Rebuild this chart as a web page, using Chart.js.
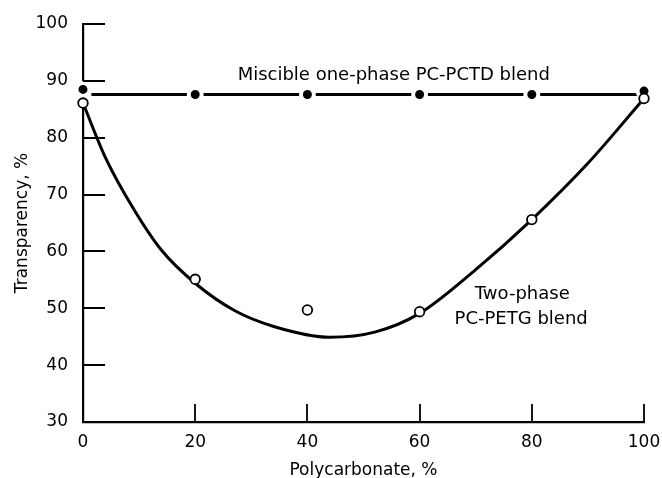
<!DOCTYPE html>
<html>
<head>
<meta charset="utf-8">
<script src="https://cdn.jsdelivr.net/npm/chart.js@4"></script>
<style>
  body { margin: 0; background: #fff; }
  canvas { display: block; }
</style>
</head>
<body>
<canvas id="myChart" width="662" height="478"></canvas>
<script>
// x = polycarbonate content, %
const pcContent = [0, 20, 40, 60, 80, 100]

// miscible one-phase PC-PCTD blend (filled dots)
const pctdValues = [88.5, 87.6, 87.6, 87.6, 87.6, 88.2]
const pctdLineX = [1.5, 100]
const pctdLineY = [87.6, 87.6]

// two-phase PC-PETG blend (open circles)
const petgValues = [86.1, 55.1, 49.7, 49.4, 65.6, 86.9]

// fitted curve through the PC-PETG points
const curveX = [0, 4, 9, 14, 20, 27, 34, 44, 52, 60, 70, 80, 90, 100]
const curveY = [86.1, 76.5, 67.5, 60.2, 54.4, 49.6, 46.8, 44.9, 45.8, 49.1, 56.8, 65.6, 75.5, 86.9]

const xTicks = [0, 20, 40, 60, 80, 100]
const yTicks = [30, 40, 50, 60, 70, 80, 90, 100]

const xTitle = 'Polycarbonate, %'
const yTitle = 'Transparency, %'

const notes = [
    { text: 'Miscible one-phase PC-PCTD blend', x: 55.4, y: 90.9 },
    { text: 'Two-phase', x: 78.3, y: 52.5 },
    { text: 'PC-PETG blend', x: 78.1, y: 48.1 }
]

const font = 'DejaVu Sans'

const toPoints = (xs, ys) => xs.map((x, i) => ({ x: x, y: ys[i] }))

// inward tick marks + annotation text
const extras = {
    id: 'extras',
    afterDraw(chart) {
        const ctx = chart.ctx
        const xs = chart.scales.x
        const ys = chart.scales.y
        const area = chart.chartArea
        ctx.save()
        ctx.strokeStyle = '#000'
        ctx.lineWidth = 2.2
        ctx.beginPath()
        yTicks.forEach(v => {
            if (v === 30) return
            const py = Math.round(ys.getPixelForValue(v))
            ctx.moveTo(area.left, py)
            ctx.lineTo(area.left + 22, py)
        })
        ctx.stroke()
        ctx.lineWidth = 1.8
        ctx.beginPath()
        xTicks.forEach(v => {
            if (v === 0) return
            const px = Math.round(xs.getPixelForValue(v))
            ctx.moveTo(px, area.bottom)
            ctx.lineTo(px, area.bottom - 18)
        })
        ctx.stroke()

        ctx.fillStyle = '#000'
        ctx.font = '18px "' + font + '"'
        ctx.textAlign = 'center'
        ctx.textBaseline = 'middle'
        notes.forEach(n => {
            ctx.fillText(n.text, xs.getPixelForValue(n.x), ys.getPixelForValue(n.y))
        })
        ctx.restore()
    }
}

const data = {
    datasets: [
        {
            label: 'PC-PETG',
            data: toPoints(pcContent, petgValues),
            showLine: false,
            clip: false,
            pointRadius: 4.8,
            pointBorderWidth: 1.8,
            pointBorderColor: '#000',
            pointBackgroundColor: '#fff'
        },
        {
            label: 'fit',
            data: toPoints(curveX, curveY),
            showLine: true,
            clip: false,
            borderColor: '#000',
            borderWidth: 3,
            pointRadius: 0,
            cubicInterpolationMode: 'monotone'
        },
        {
            label: 'PC-PCTD',
            data: toPoints(pcContent, pctdValues),
            showLine: false,
            clip: false,
            pointRadius: 6.5,
            pointBorderWidth: 4,
            pointBorderColor: '#fff',
            pointBackgroundColor: '#000'
        },
        {
            label: 'PC-PCTD line',
            data: toPoints(pctdLineX, pctdLineY),
            showLine: true,
            clip: false,
            borderColor: '#000',
            borderWidth: 3,
            pointRadius: 0
        }
    ]
}

const config = {
    type: 'scatter',
    data: data,
    options: {
        responsive: false,
        animation: false,
        devicePixelRatio: 1,
        layout: {
            padding: { top: 24, right: 18, left: 0, bottom: 0 }
        },
        plugins: {
            legend: { display: false },
            tooltip: { enabled: false }
        },
        scales: {
            x: {
                type: 'linear',
                min: 0,
                max: 100,
                afterFit: scale => {
                    scale.height = 56
                    scale.paddingLeft = 0
                    scale.paddingRight = 0
                },
                afterBuildTicks: scale => { scale.ticks = xTicks.map(v => ({ value: v })) },
                grid: { display: false, drawTicks: false },
                border: { display: true, color: '#000', width: 2.2 },
                ticks: {
                    padding: 10,
                    color: '#000',
                    font: { family: font, size: 17 }
                },
                title: {
                    display: true,
                    text: xTitle,
                    color: '#000',
                    padding: { top: 0, bottom: -3 },
                    font: { family: font, size: 17 }
                }
            },
            y: {
                type: 'linear',
                min: 30,
                max: 100,
                afterFit: scale => {
                    scale.width = 83
                    scale.paddingTop = 0
                    scale.paddingBottom = 0
                },
                afterBuildTicks: scale => { scale.ticks = yTicks.map(v => ({ value: v })) },
                grid: { display: false, drawTicks: false },
                border: { display: true, color: '#000', width: 2.2 },
                ticks: {
                    padding: 15,
                    color: '#000',
                    font: { family: font, size: 17 }
                },
                title: {
                    display: true,
                    text: yTitle,
                    color: '#000',
                    padding: { top: 12 },
                    font: { family: font, size: 17 }
                }
            }
        }
    },
    plugins: [extras]
}

new Chart(document.getElementById('myChart'), config)
</script>
</body>
</html>
